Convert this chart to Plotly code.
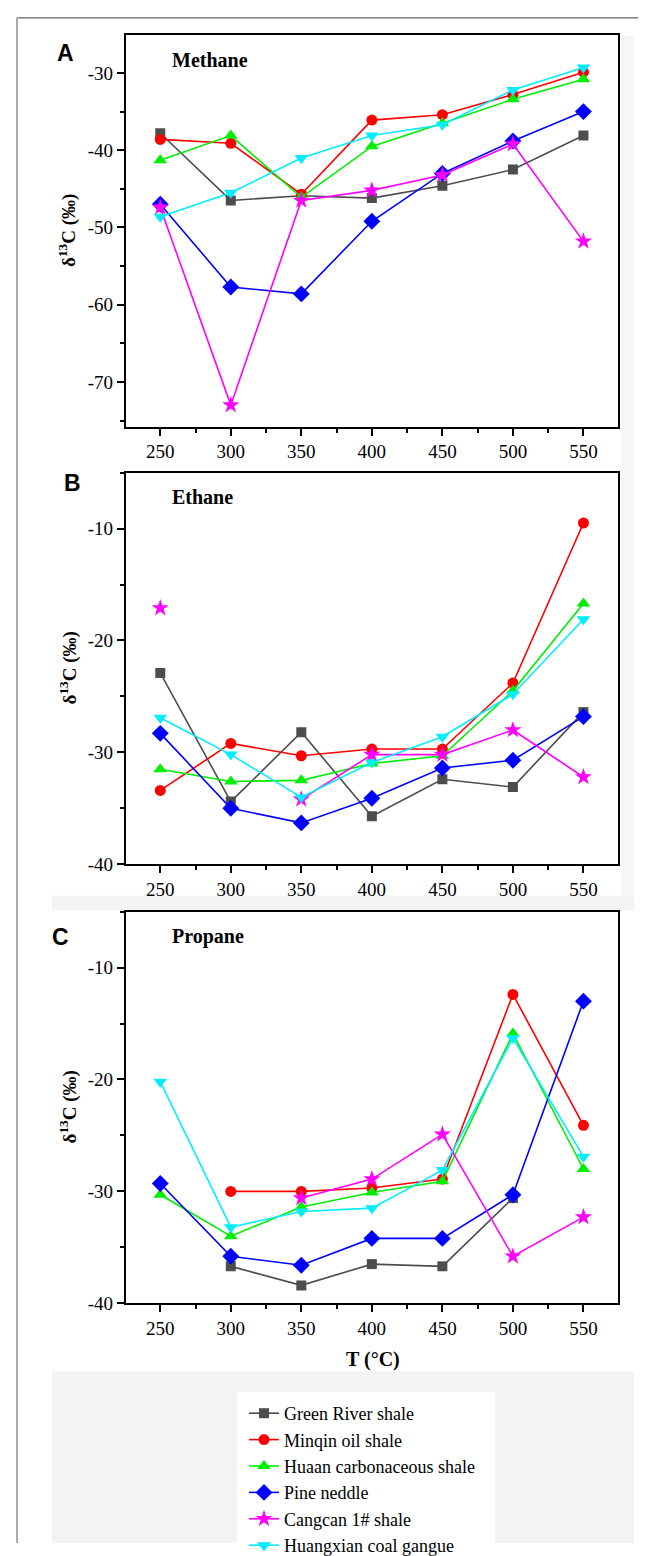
import plotly.graph_objects as go

W, H = 646, 1556

temps = [250, 300, 350, 400, 450, 500, 550]
series_names = ["Green River shale", "Minqin oil shale", "Huaan carbonaceous shale",
                "Pine neddle", "Cangcan 1# shale", "Huangxian coal gangue"]
colors = ["#4d4d4d", "#ff0000", "#00ee00", "#0000ff", "#ff00ff", "#00eeff"]
symbols = ["square", "circle", "triangle-up", "diamond", "star", "triangle-down"]
msizes = [10, 11, 12, 13, 13, 12]

# Methane
methane = [
    [-37.8, -46.5, -45.9, -46.2, -44.6, -42.5, -38.1],
    [-38.6, -39.1, -45.7, -36.1, -35.4, -32.8, -29.9],
    [-41.3, -38.1, -46.1, -39.5, -36.5, -33.4, -30.8],
    [-47.0, -57.7, -58.6, -49.2, -43.0, -38.8, -35.0],
    [-47.4, -73.0, -46.5, -45.2, -43.2, -39.2, -51.8],
    [-48.6, -45.5, -41.0, -38.1, -36.7, -32.2, -29.3],
]
# Ethane
ethane = [
    [-22.9, -34.4, -28.2, -35.7, -32.4, -33.1, -26.4],
    [-33.4, -29.2, -30.3, -29.7, -29.7, -23.8, -9.5],
    [-31.5, -32.6, -32.5, -31.0, -30.3, -24.5, -16.7],
    [-28.3, -35.0, -36.3, -34.1, -31.4, -30.7, -26.8],
    [-17.1, None, -34.2, -30.2, -30.2, -28.0, -32.2],
    [-26.9, -30.2, -34.0, -30.9, -28.6, -24.8, -18.1],
]
# Propane
propane = [
    [None, -36.7, -38.4, -36.5, -36.7, -30.6, None],
    [None, -30.0, -30.0, -29.7, -28.9, -12.4, -24.1],
    [-30.3, -34.0, -31.4, -30.1, -29.1, -15.9, -28.0],
    [-29.3, -35.8, -36.6, -34.2, -34.2, -30.3, -13.0],
    [None, None, -30.6, -28.9, -24.9, -35.8, -32.3],
    [-20.2, -33.2, -31.8, -31.5, -28.1, -16.3, -26.9],
]
panel_titles = ["Methane", "Ethane", "Propane"]
panel_letters = ["A", "B", "C"]
y_ranges = [[-75.8, -25.1], [-40, -5], [-40, -5]]
y_ticks = [[-70, -60, -50, -40, -30], [-40, -30, -20, -10], [-40, -30, -20, -10]]
x_minor = [275, 325, 375, 425, 475, 525]

# layout in pixels
x_left, x_right = 117.7, 610.0
panels_px = [(27.5, 424.5), (471.0, 868.0), (916.0, 1313.0)]


def px(x):
    return x / W


def py(y):
    return 1 - y / H


SERIF = "Liberation Serif"

fig = go.Figure()
datasets = [methane, ethane, propane]
for p, data in enumerate(datasets):
    ax = "" if p == 0 else str(p + 1)
    for i, name in enumerate(series_names):
        fig.add_trace(go.Scatter(
            x=temps, y=data[i], name=name, mode="lines+markers",
            xaxis="x" + ax, yaxis="y" + ax,
            line=dict(color=colors[i], width=1.6),
            marker=dict(symbol=symbols[i], size=msizes[i], color=colors[i],
                        line=dict(width=0)),
            connectgaps=False, legendgroup=name, showlegend=(p == 0),
        ))

tickfont = dict(family=SERIF, size=19, color="black")
axis_common = dict(showline=True, linecolor="black", linewidth=1.8, mirror=True,
                   ticks="outside", ticklen=7, tickwidth=1.6, tickcolor="black",
                   showgrid=False, zeroline=False, tickfont=tickfont)

annotations = []
shapes = []
for p in range(3):
    ax = "" if p == 0 else str(p + 1)
    top, bot = panels_px[p]
    fig.layout["xaxis" + ax] = dict(
        domain=[px(x_left), px(x_right)], range=[225.5, 574.5],
        anchor="y" + ax, tickmode="array", tickvals=temps,
        ticktext=[str(t) for t in temps],
        minor=dict(tickvals=x_minor, ticks="outside",
                   ticklen=4, tickwidth=1.6, tickcolor="black"),
        **axis_common)
    minor_vals = [v + 5 for v in y_ticks[p]] + [y_ticks[p][0] - 5]
    fig.layout["yaxis" + ax] = dict(
        domain=[py(bot), py(top)], range=y_ranges[p], anchor="x" + ax,
        tickmode="array", tickvals=y_ticks[p],
        ticktext=[str(v) for v in y_ticks[p]],
        minor=dict(tickvals=minor_vals, ticks="outside", ticklen=4,
                   tickwidth=1.6, tickcolor="black"),
        **axis_common)
    annotations.append(dict(
        text="<b>δ<sup>13</sup>C (‰)</b>", textangle=-90, x=px(60),
        y=py((top + bot) / 2), xref="paper", yref="paper", showarrow=False,
        xanchor="center", yanchor="middle",
        font=dict(family=SERIF, size=19, color="black")))
    annotations.append(dict(
        text="<b>" + panel_titles[p] + "</b>", x=px(161.5),
        y=py(top + 25), xref="paper", yref="paper", showarrow=False,
        xanchor="left", yanchor="middle",
        font=dict(family=SERIF, size=20, color="black")))

letter_pos = [(57, 45.5), (64, 481), (52, 942)]
for p in range(3):
    lx, ly = letter_pos[p]
    annotations.append(dict(
        text="<b>" + panel_letters[p] + "</b>", x=px(lx), y=py(ly),
        xref="paper", yref="paper", showarrow=False, xanchor="center",
        yanchor="middle",
        font=dict(family="Liberation Sans", size=23, color="black")))

annotations.append(dict(
    text="<b>T (°C)</b>", x=px(365), y=py(1370), xref="paper", yref="paper",
    showarrow=False, xanchor="center", yanchor="middle",
    font=dict(family=SERIF, size=20, color="black")))

# background / frame decorations
shapes += [
    dict(type="rect", xref="paper", yref="paper", x0=px(44), x1=px(626),
         y0=py(1556), y1=py(1382), fillcolor="#f3f3f3", line=dict(width=0),
         layer="below"),
    dict(type="rect", xref="paper", yref="paper", x0=px(44), x1=px(626),
         y0=py(915), y1=py(900), fillcolor="#f4f4f4", line=dict(width=0),
         layer="below"),
    dict(type="rect", xref="paper", yref="paper", x0=px(613), x1=px(626),
         y0=py(900), y1=py(28), fillcolor="#f6f6f6", line=dict(width=0),
         layer="below"),
    dict(type="rect", xref="paper", yref="paper", x0=px(229), x1=px(487),
         y0=py(1556), y1=py(1403), fillcolor="white", line=dict(width=0),
         layer="below"),
    dict(type="line", xref="paper", yref="paper", x0=px(9), x1=px(646),
         y0=py(10), y1=py(10), line=dict(color="#666666", width=1.2)),
    dict(type="line", xref="paper", yref="paper", x0=px(9), x1=px(9),
         y0=py(10), y1=py(1556), line=dict(color="#aaaaaa", width=2)),
]

fig.update_layout(
    width=W, height=H, margin=dict(l=0, r=0, t=0, b=0),
    paper_bgcolor="white", plot_bgcolor="white",
    font=dict(family=SERIF, size=18, color="black"),
    annotations=annotations, shapes=shapes,
    legend=dict(x=px(236), y=py(1406), xanchor="left", yanchor="top",
                bgcolor="rgba(0,0,0,0)", borderwidth=0,
                font=dict(family=SERIF, size=18, color="black"),
                tracegroupgap=0, itemwidth=30),
)

fig.write_html("out.html")
